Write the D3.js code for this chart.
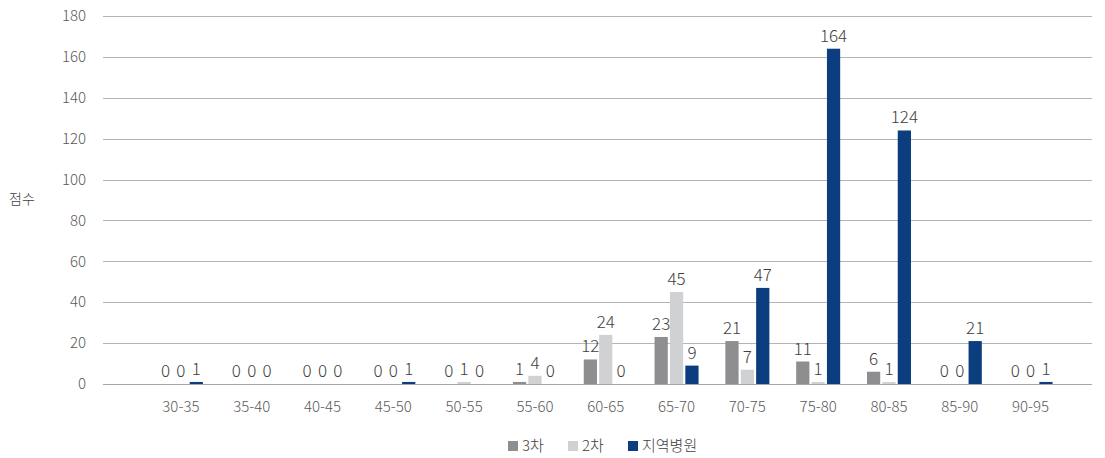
<!DOCTYPE html>
<html>
<head>
<meta charset="utf-8">
<script src="https://cdn.jsdelivr.net/npm/d3@7"></script>
<style>
  body { margin: 0; background: #fff; }
  text { font-family: "Noto Sans CJK KR", "Noto Sans", sans-serif; font-weight: 300; }
</style>
</head>
<body>
<div id="chart"></div>
<script>
const categories = ["30-35", "35-40", "40-45", "45-50", "50-55", "55-60", "60-65", "65-70", "70-75", "75-80", "80-85", "85-90", "90-95"];
const seriesNames = ["3차", "2차", "지역병원"];
const tertiary = [0, 0, 0, 0, 0, 1, 12, 23, 21, 11, 6, 0, 0];
const secondary = [0, 0, 0, 0, 1, 4, 24, 45, 7, 1, 1, 0, 0];
const local = [1, 0, 0, 1, 0, 0, 0, 9, 47, 164, 124, 21, 1];
const yTicks = [0, 20, 40, 60, 80, 100, 120, 140, 160, 180];
const colors = ["#8e8e90", "#d0d1d3", "#0c3d7e"];

const width = 1105, height = 458;
const svg = d3.select("#chart").append("svg")
    .attr("width", width)
    .attr("height", height);

const y = d3.scaleLinear().domain([0, 180]).range([384, 16]);

// category bands (plot area is wider than the bands, like the original)
const x = d3.scaleBand().domain(categories).range([145.5, 1066]).paddingInner(0).paddingOuter(0);
const inner = d3.scaleBand().domain(seriesNames).range([x.bandwidth() / 2 - 22, x.bandwidth() / 2 + 22]).paddingInner(0.14);

// gridlines
svg.append("g")
    .selectAll("line")
    .data(yTicks)
    .join("line")
    .attr("x1", 103).attr("x2", 1092)
    .attr("y1", d => Math.round(y(d)) + 0.5)
    .attr("y2", d => Math.round(y(d)) + 0.5)
    .attr("stroke", d => d === 0 ? "#a6a6a6" : "#b4b4b4")
    .attr("stroke-width", 1);

// y tick labels
svg.append("g")
    .selectAll("text")
    .data(yTicks)
    .join("text")
    .attr("x", 86)
    .attr("y", d => y(d))
    .attr("dy", "0.35em")
    .attr("text-anchor", "end")
    .attr("font-size", 15)
    .attr("fill", "#595959")
    .text(d => d);

svg.append("text")
    .attr("x", 22).attr("y", 199)
    .attr("dy", "0.35em")
    .attr("text-anchor", "middle")
    .attr("font-size", 14)
    .attr("fill", "#404040")
    .text("점수");

// x labels
svg.append("g")
    .selectAll("text")
    .data(categories)
    .join("text")
    .attr("x", d => x(d) + x.bandwidth() / 2)
    .attr("y", 407)
    .attr("dy", "0.35em")
    .attr("text-anchor", "middle")
    .attr("font-size", 15)
    .attr("fill", "#595959")
    .text(d => d);

const allSeries = [tertiary, secondary, local];
const rows = [];
categories.forEach((c, i) => {
    seriesNames.forEach((s, j) => rows.push({ cat: c, series: s, idx: j, value: allSeries[j][i] }));
});

// bars
svg.append("g")
    .selectAll("rect")
    .data(rows)
    .join("rect")
    .attr("x", d => x(d.cat) + inner(d.series))
    .attr("width", inner.bandwidth())
    .attr("y", d => y(d.value))
    .attr("height", d => y(0) - y(d.value))
    .attr("fill", d => colors[d.idx]);

// value labels
svg.append("g")
    .selectAll("text")
    .data(rows)
    .join("text")
    .attr("x", d => x(d.cat) + inner(d.series) + inner.bandwidth() / 2)
    .attr("y", d => y(d.value) - 7)
    .attr("text-anchor", "middle")
    .attr("font-size", 17)
    .attr("fill", "#404040")
    .text(d => d.value);

// legend
const legend = svg.append("g");
const legendX = [508, 568, 628];
seriesNames.forEach((s, j) => {
    legend.append("rect")
        .attr("x", legendX[j]).attr("y", 441)
        .attr("width", 10).attr("height", 10)
        .attr("fill", colors[j]);
    legend.append("text")
        .attr("x", legendX[j] + 14).attr("y", 446)
        .attr("dy", "0.35em")
        .attr("font-size", 15)
        .attr("fill", "#404040")
        .text(s);
});
</script>
</body>
</html>
